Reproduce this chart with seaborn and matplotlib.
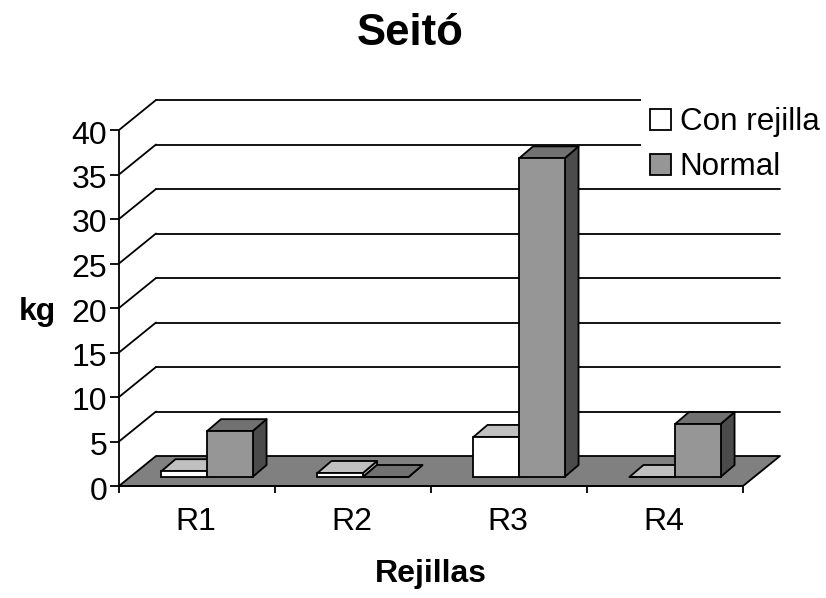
import numpy as np
import pandas as pd
import matplotlib
matplotlib.use('Agg')
import matplotlib.pyplot as plt
import seaborn as sns
from matplotlib.patches import Polygon, Rectangle
from matplotlib.transforms import Affine2D, IdentityTransform

categories = ['R1', 'R2', 'R3', 'R4']
con_rejilla = [0.65, 0.45, 4.5, 0.0]
normal = [5.15, 0.0, 35.8, 5.95]
series_names = ['Con rejilla', 'Normal']
y_ticks = [0, 5, 10, 15, 20, 25, 30, 35, 40]

# greys: front, top, side
front_colors = ['#ffffff', '#969696']
top_colors = ['#c0c0c0', '#717171']
side_colors = ['#c0c0c0', '#4b4b4b']
floor_color = '#808080'

# fake 3d depth in pixels
back_dx, back_dy = 37, 30
bar_dx, bar_dy = 10, 9
depth_dx, depth_dy = 14, 12
lw = 1.3

sns.set_theme(style='white')
plt.rcParams['font.family'] = ['Liberation Sans', 'DejaVu Sans']

df = pd.DataFrame({
    'cat': categories * 2,
    'serie': [series_names[0]] * 4 + [series_names[1]] * 4,
    'kg': con_rejilla + normal,
})

W, H = 826, 598
fig = plt.figure(figsize=(W / 100, H / 100), dpi=100)
ax = fig.add_axes([119 / W, (H - 486) / H, 624 / W, 356 / H])

sns.barplot(data=df, x='cat', y='kg', hue='serie', palette=front_colors, width=0.584,
            gap=0, saturation=1, edgecolor='black', linewidth=lw, legend=False, ax=ax)
ax.set_xlim(-0.5, 3.5)
ax.set_ylim(0, 40)
ax.patch.set_visible(False)

# pixel offset transforms
to_px = IdentityTransform()
back = ax.transData + Affine2D().translate(back_dx, back_dy)


def add_poly(points, color, z):
    ax.add_patch(Polygon(points, closed=True, facecolor=color, edgecolor='black', linewidth=lw,
                         transform=to_px, clip_on=False, zorder=z, joinstyle='round'))


# floor
x0, y0 = ax.transData.transform((-0.5, 0))
x1, y1 = ax.transData.transform((3.5, 0))
add_poly([(x0, y0), (x1, y1), (x1 + back_dx, y1 + back_dy), (x0 + back_dx, y0 + back_dy)], floor_color, 1.5)

# walls
for v in y_ticks[1:]:
    ax.plot([-0.5, 3.5], [v, v], color='black', lw=lw, transform=back, clip_on=False, zorder=1)
    px, py = ax.transData.transform((-0.5, v))
    ax.plot([px, px + back_dx], [py, py + back_dy], color='black', lw=lw, transform=to_px,
            clip_on=False, zorder=1)

# white legend background hides the top two wall lines only
ax.add_patch(Rectangle((641, H - 183), W - 641, 93, facecolor='white', edgecolor='none',
                       transform=to_px, clip_on=False, zorder=1.2))

# bars: front face comes from seaborn, top and side are added from its geometry
shift = ax.transData + Affine2D().translate(bar_dx, bar_dy)
for i, container in enumerate(ax.containers):
    for bar in container:
        bar.set_transform(shift)
        bar.set_clip_on(False)
        bar.set_zorder(3.2 + i)
        bx = bar.get_x()
        bw = bar.get_width()
        bh = bar.get_height()
        rb = shift.transform((bx + bw, 0))
        lt = shift.transform((bx, bh))
        rt = shift.transform((bx + bw, bh))
        d = np.array([depth_dx, depth_dy])
        add_poly([rb, rt, rt + d, rb + d], side_colors[i], 3 + i)
        add_poly([lt, rt, rt + d, lt + d], top_colors[i], 3.1 + i)

# axes
sns.despine(ax=ax)
for s in ['left', 'bottom']:
    ax.spines[s].set_color('black')
    ax.spines[s].set_linewidth(lw)
    ax.spines[s].set_zorder(2)
ax.set_yticks(y_ticks)
ax.set_xticks([-0.5, 0.5, 1.5, 2.5, 3.5], minor=True)
ax.tick_params(axis='y', which='major', left=True, length=6.5, width=lw, color='black',
               labelsize=23, labelcolor='black', pad=2)
ax.tick_params(axis='x', which='major', bottom=False, labelsize=23, labelcolor='black', pad=9)
ax.tick_params(axis='x', which='minor', bottom=True, length=5, width=lw, color='black')
for lab in ax.get_yticklabels():
    lab.set_transform(lab.get_transform() + Affine2D().translate(0, -2))
for lab in ax.get_xticklabels():
    lab.set_transform(lab.get_transform() + Affine2D().translate(-1, 0))
ax.set_xlabel('Rejillas', fontsize=23, fontweight='bold', color='black', va='center')
ax.set_ylabel('kg', fontsize=23, fontweight='bold', color='black', rotation=0, va='center', ha='center')
ax.xaxis.set_label_coords((431 - 119) / 624, (486 - 574) / 356)
ax.yaxis.set_label_coords((37 - 119) / 624, (486 - 312) / 356)

handles = [plt.Rectangle((0, 0), 1, 1, facecolor=c, edgecolor='black', linewidth=lw) for c in front_colors]
leg = ax.legend(handles, series_names, loc='upper left', bbox_to_anchor=(641 / W, (H - 98) / H),
                bbox_transform=fig.transFigure, fontsize=22.6, frameon=False, borderpad=0.3, borderaxespad=0,
                handlelength=0.66, handleheight=0.66, handletextpad=0.27, labelspacing=0.48, labelcolor='black')
leg.set_zorder(2.5)

fig.text(410 / W, (H - 45) / H, 'Seitó', fontsize=31.5, fontweight='bold', color='black', ha='center', va='baseline')

fig.savefig('out.png', dpi=100, facecolor='white')
